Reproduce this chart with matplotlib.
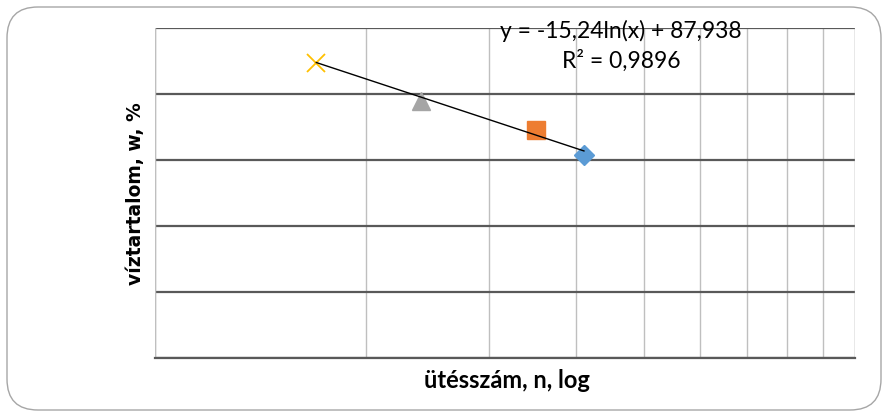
import matplotlib
matplotlib.use("Agg")
import matplotlib.pyplot as plt
import matplotlib.ticker as ticker
from matplotlib.patches import FancyBboxPatch
import numpy as np

# data
n_blows = [17.0, 24.0, 35.0, 41.0]
water = [44.7, 38.9, 34.5, 30.8]
markers = ["x", "^", "s", "D"]
colors = ["#FFC000", "#A5A5A5", "#ED7D31", "#5B9BD5"]
marker_sizes = [13.5, 13.5, 13.5, 10.5]

# trendline coefficients as printed on the chart
slope = -15.24
intercept = 87.938
eq_text = "y = -15,24ln(x) + 87,938"
r2_text = "R² = 0,9896"

x_min, x_max = 10, 100
y_min, y_max = 0, 50

plt.rcParams['font.family'] = ['Lato', 'DejaVu Sans']

fig = plt.figure(figsize=(8.83, 4.16), dpi=100)

# rounded chart border (Excel style)
W, H = 883, 416
border = FancyBboxPatch((7 / W, 6 / H), 874 / W, 403 / H,
                        boxstyle="round,pad=0,rounding_size=0.035",
                        transform=fig.transFigure, fill=False,
                        ec="#A6A6A6", lw=1.0, mutation_aspect=W / H)
fig.patches.append(border)

ax = fig.add_axes([155 / W, (H - 357.5) / H, 700 / W, 329.5 / H])
ax.set_xscale("log")
ax.set_xlim(x_min, x_max)
ax.set_ylim(y_min, y_max)

# gridlines
ax.xaxis.set_major_locator(ticker.FixedLocator([10, 100]))
ax.xaxis.set_minor_locator(ticker.FixedLocator(np.arange(20, 100, 10)))
ax.yaxis.set_major_locator(ticker.MultipleLocator(10))
ax.grid(True, axis="x", which="both", color="#BFBFBF", lw=1.0)
ax.grid(True, axis="y", which="major", color="#595959", lw=1.6)
ax.tick_params(which="both", length=0, labelbottom=False, labelleft=False)
for side in ["top", "right", "left"]:
    ax.spines[side].set_visible(False)
ax.spines["bottom"].set_color("#595959")
ax.spines["bottom"].set_linewidth(1.6)
ax.axvline(x_min, color="#BFBFBF", lw=1.0)
ax.axvline(x_max, color="#BFBFBF", lw=1.0)
ax.set_axisbelow(True)

# trendline between smallest and largest n
xt = np.geomspace(min(n_blows), max(n_blows), 50)
ax.plot(xt, slope * np.log(xt) + intercept, color="black", lw=1.0, zorder=4)

for xv, yv, m, c, s in zip(n_blows, water, markers, colors, marker_sizes):
    if m == "x":
        ax.plot(xv, yv, marker=m, color=c, ms=s, mew=1.3, ls="none", zorder=3)
    else:
        ax.plot(xv, yv, marker=m, color=c, mec=c, ms=s, ls="none", zorder=3)

ax.text(0.666, 0.992, eq_text, transform=ax.transAxes, ha="center", va="center",
        fontsize=16.5)
ax.text(0.666, 0.9, r2_text, transform=ax.transAxes, ha="center", va="center",
        fontsize=16.5)

fig.text(507 / W, 1 - 381 / H, "ütésszám, n, log", ha="center", va="center",
         fontsize=17, fontweight="bold")
fig.text(136 / W, 1 - 194 / H, "víztartalom, w, %", ha="center", va="center",
         rotation=90, fontsize=13.5, fontweight="bold", family="DejaVu Sans")

fig.savefig("out.png", dpi=100)
